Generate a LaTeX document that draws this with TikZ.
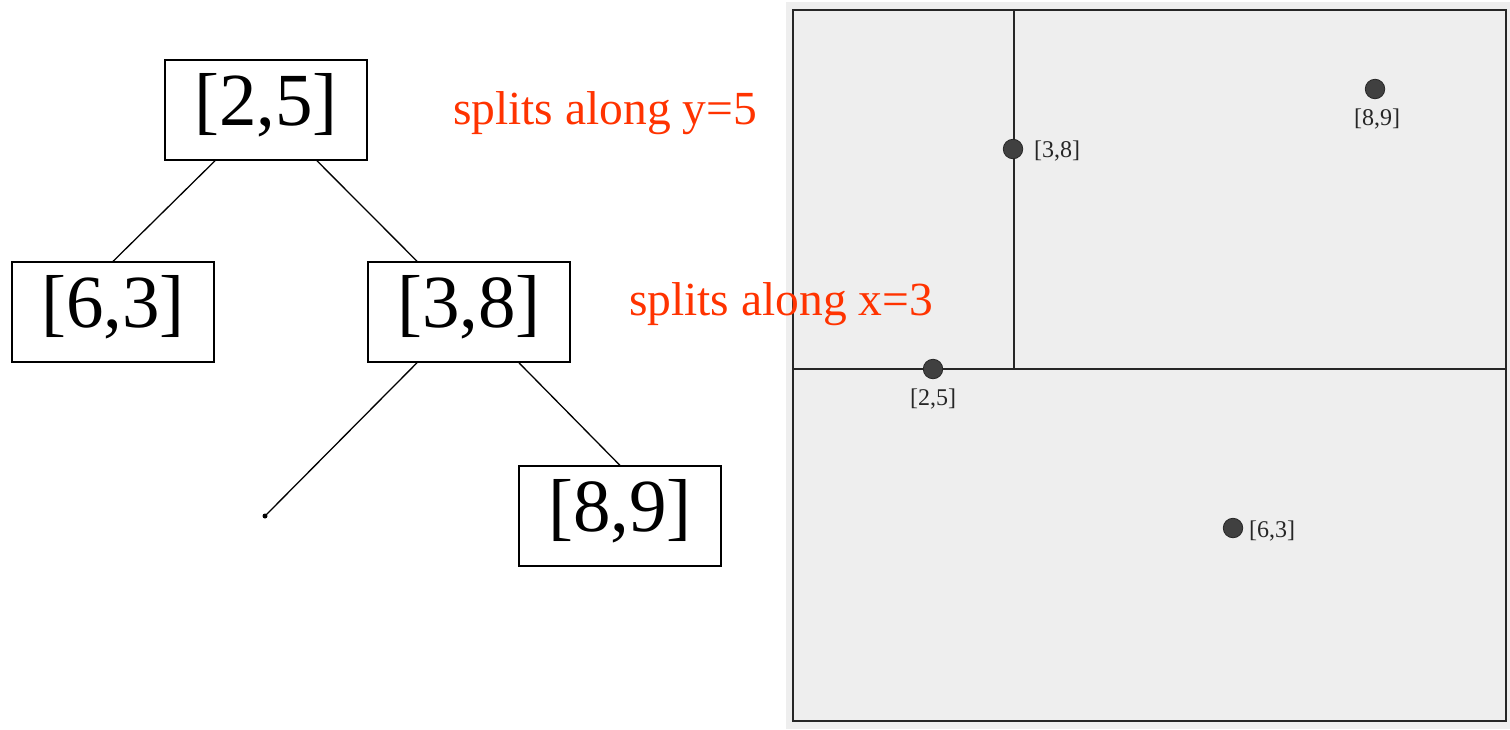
\documentclass[tikz,border=0pt]{standalone}
\usepackage{fontspec}
\setmainfont{Liberation Serif}
\usetikzlibrary{calc}
\begin{document}
\begin{tikzpicture}[x=1pt,y=-1pt,
  treebox/.style={draw=black,line width=1.2pt,minimum width=202pt,minimum height=100pt,inner sep=0pt,text height=51pt,text depth=20pt,font=\fontsize{75}{80}\selectfont},
  treeedge/.style={draw=black,line width=1.3pt},
  splitnote/.style={text=splitred,font=\fontsize{47.5}{52}\selectfont,inner sep=0pt},
  pt/.style={circle,fill=dotgray,draw=black!85,line width=0.8pt,minimum size=19.5pt,inner sep=0pt},
  ptlabel/.style={font=\fontsize{24}{26}\selectfont,text=black!85,inner sep=0pt},
  splitline/.style={draw=black!85,line width=1.6pt}]
\definecolor{splitred}{HTML}{FF3300}
\definecolor{dotgray}{HTML}{404040}
\definecolor{panelgray}{HTML}{EEEEEE}
\useasboundingbox (0,0) rectangle (1510,729);
\fill[white] (0,0) rectangle (1510,729);
% tree
\node[treebox] (n25) at (266,110) {[2,5]};
\node[treebox] (n63) at (113,312) {[6,3]};
\node[treebox] (n38) at (469,312) {[3,8]};
\node[treebox] (n89) at (620,516) {[8,9]};
\coordinate (nul) at (265,516);
\fill (nul) circle (2.5);
\draw[treeedge] ($(n25.south west)!0.25!(n25.south east)$) -- (n63.north);
\draw[treeedge] ($(n25.south west)!0.75!(n25.south east)$) -- ($(n38.north west)!0.245!(n38.north east)$);
\draw[treeedge] ($(n38.south west)!0.245!(n38.south east)$) -- (nul);
\draw[treeedge] ($(n38.south west)!0.745!(n38.south east)$) -- (n89.north);
% panel
\fill[panelgray] (786,2) rectangle (1510,729);
\draw[black!85,line width=2pt] (793,10) rectangle (1506,721);
\coordinate (hl) at (793,369);
\coordinate (hr) at (1506,369);
\coordinate (vt) at (1014,10);
\coordinate (vb) at (1014,369);
\draw[splitline] (hl) -- (hr);
\draw[splitline] (vt) -- (vb);
\node[pt] (p25) at (933,369) {};
\node[pt] (p38) at (1013,149) {};
\node[pt] (p89) at (1375,89) {};
\node[pt] (p63) at (1233,528) {};
\node[ptlabel,anchor=west] at (1034,151) {[3,8]};
\node[ptlabel] at (1377,119) {[8,9]};
\node[ptlabel] at (933,399) {[2,5]};
\node[ptlabel,anchor=west] at (1249,531) {[6,3]};
% notes
\node[splitnote] (s1) at (605,113) {splits along y=5};
\node[splitnote] (s2) at (781,304) {splits along x=3};
\end{tikzpicture}
\end{document}
